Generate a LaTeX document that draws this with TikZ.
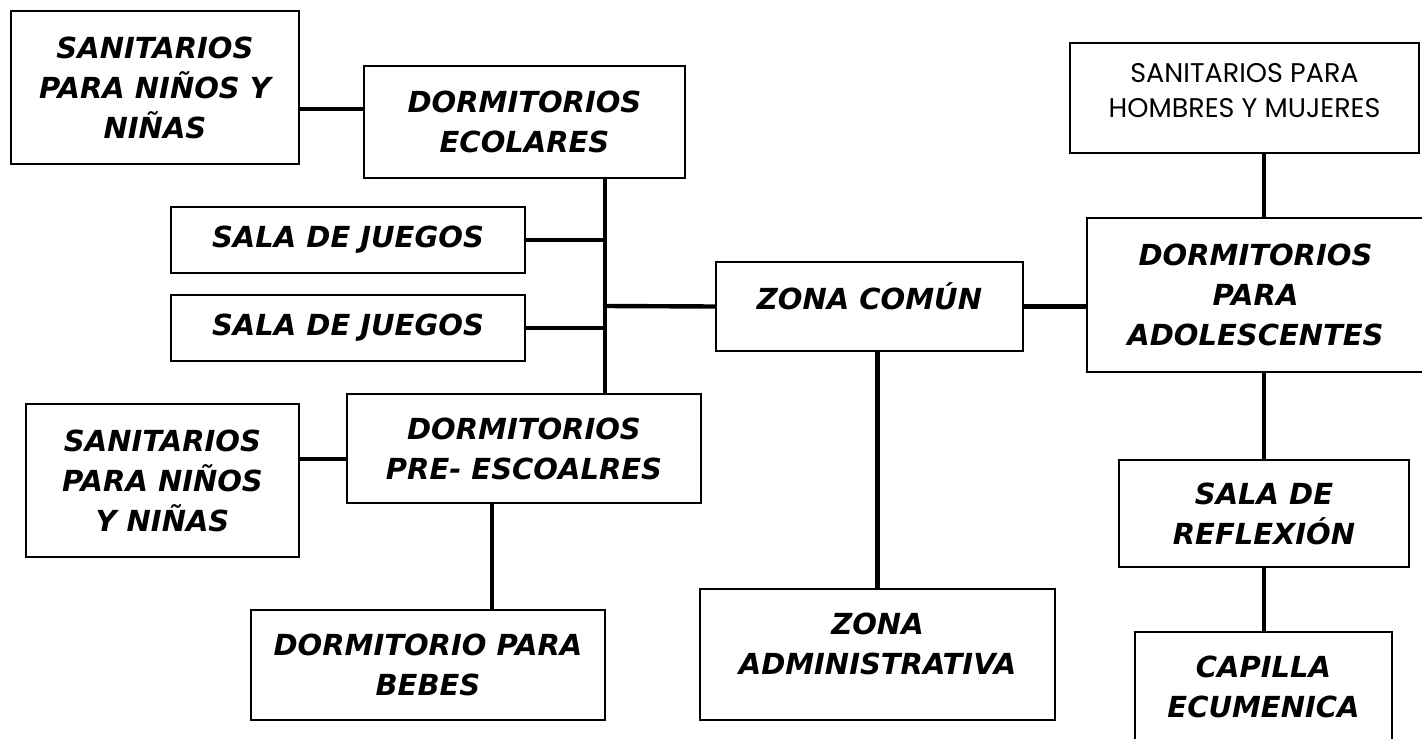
\documentclass[tikz,border=0pt]{standalone}
\usepackage{fontspec}
\setmainfont{DejaVu Sans}
\newfontfamily\gothicfont{Poppins}

\begin{document}
\begin{tikzpicture}[
            x=0.5pt, y=-0.5pt,
            room/.style={rectangle, draw=black, line width=0.9pt, fill=white, inner sep=0pt,
                        align=center, font=\fontsize{14.5}{20}\selectfont\bfseries\itshape},
            plain/.style={room, font=\fontsize{13.5}{17.5}\selectfont\gothicfont},
            link/.style={line width=2.2pt, black}
        ]
            \useasboundingbox (0,0) rectangle (1422,738);

            % Left column
            \node[room, minimum width=144pt, minimum height=76.5pt] (sanA) at (155,87.5) {SANITARIOS\\PARA NIÑOS Y\\NIÑAS};
            \node[room, minimum width=160.5pt, minimum height=56pt] (ecolares) at (524.5,122) {DORMITORIOS\\ECOLARES};
            \node[room, minimum width=177pt, minimum height=33pt] (juegosA) at (348,240) {SALA DE JUEGOS};
            \node[room, minimum width=177pt, minimum height=33pt] (juegosB) at (348,328) {SALA DE JUEGOS};
            \node[room, minimum width=136.5pt, minimum height=76.5pt] (sanB) at (162.5,480.5) {SANITARIOS\\PARA NIÑOS\\Y NIÑAS};
            \node[room, minimum width=177pt, minimum height=54.5pt] (preesc) at (524,448.5) {DORMITORIOS\\PRE- ESCOALRES};
            \node[room, minimum width=177pt, minimum height=55pt] (bebes) at (428,665) {DORMITORIO PARA\\BEBES};

            % Middle
            \node[room, minimum width=153.5pt, minimum height=44.5pt] (comun) at (869.5,306.5) {ZONA COMÚN\\[-10pt]};
            \node[room, minimum width=177.5pt, minimum height=65.5pt] (admin) at (877.5,654.5) {ZONA\\ADMINISTRATIVA\\[-9pt]};

            % Right column
            \node[plain, minimum width=174.5pt, minimum height=55pt] (sanHM) at (1244.5,98) {SANITARIOS PARA\\HOMBRES Y MUJERES\\[-9.5pt]};
            \node[room, minimum width=168.5pt, minimum height=77pt] (adolesc) at (1255.5,295) {DORMITORIOS\\PARA\\ADOLESCENTES};
            \node[room, minimum width=145pt, minimum height=53.5pt] (reflex) at (1264,513.5) {SALA DE\\REFLEXIÓN};
            \node[room, minimum width=128.5pt, minimum height=55pt] (capilla) at (1263.5,687) {CAPILLA\\ECUMENICA};

            % Trunk on the left
            \coordinate (trunk) at (605,306);

            % Links
            \draw[link] (sanA.east |- 0,109) -- (ecolares.west |- 0,109);
            \draw[link] (trunk |- ecolares.south) -- (trunk |- preesc.north);
            \draw[link] (juegosA.east) -- (juegosA.east -| trunk);
            \draw[link] (juegosB.east) -- (juegosB.east -| trunk);
            \draw[link] (trunk) -- (comun.west);
            \draw[link] (comun.east) -- (comun.east -| adolesc.west);
            \draw[link] (sanB.east |- 0,459) -- (preesc.west |- 0,459);
            \draw[link] (bebes.north -| 492,0) -- (preesc.south -| 492,0);
            \draw[link] (admin.north) -- (admin.north |- comun.south);
            \draw[link] (reflex.north |- sanHM.south) -- (reflex.north |- adolesc.north);
            \draw[link] (reflex.north |- adolesc.south) -- (reflex.north);
            \draw[link] (reflex.south) -- (reflex.south |- capilla.north);
        \end{tikzpicture}
\end{document}
